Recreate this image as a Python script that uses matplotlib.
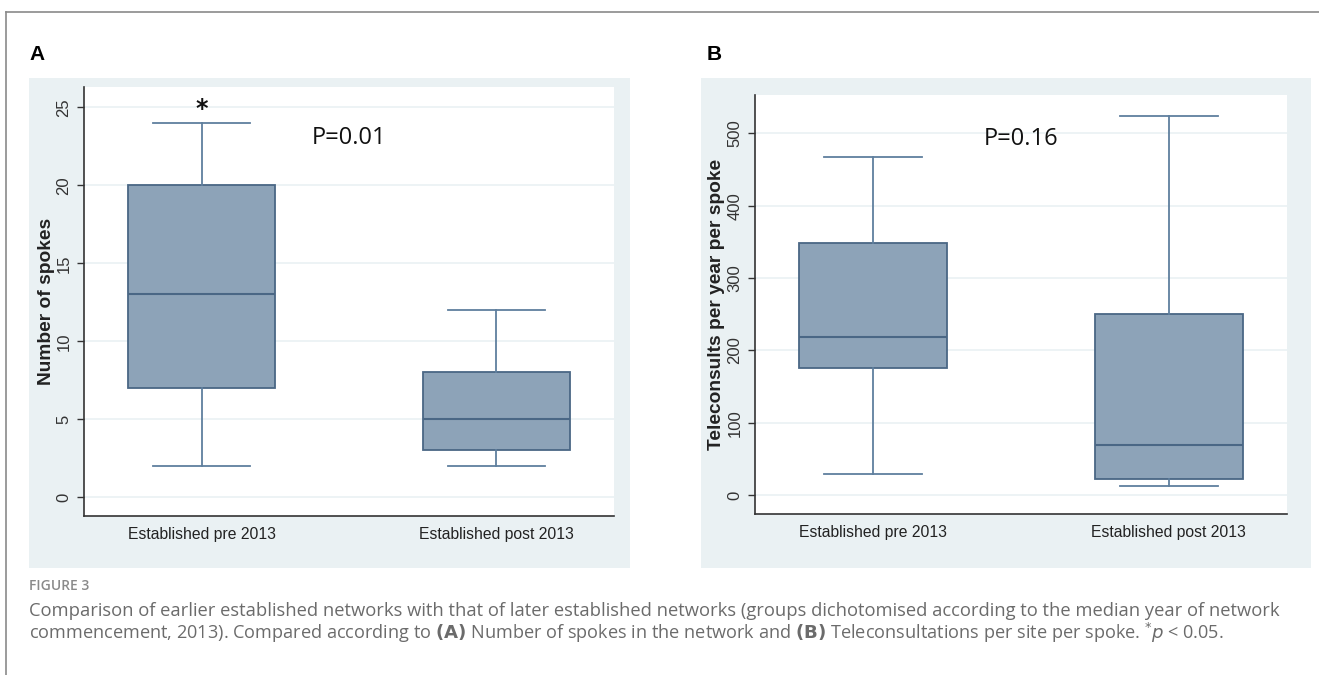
#!/usr/bin/env python3
"""Figure 3: boxplots of networks established pre/post 2013"""
import matplotlib
matplotlib.use('Agg')
import matplotlib.pyplot as plt
from matplotlib.lines import Line2D

groups = ['Established pre 2013', 'Established post 2013']

# box stats: low whisker, q1, median, q3, high whisker
spokes_stats = [[2, 7, 13, 20, 24], [2, 3, 5, 8, 12]]
spokes_ticks = [0, 5, 10, 15, 20, 25]

consults_stats = [[29, 176, 218, 349, 468], [13, 23, 69, 251, 524]]
consults_ticks = [0, 100, 200, 300, 400, 500]

BG = '#eaf1f3'
FILL = '#8da3b8'
EDGE = '#4a6785'
WHISK = '#5f7f9e'

W, H = 1319, 675
fig = plt.figure(figsize=(W / 100, H / 100), dpi=100)


def px(x0, y0, x1, y1):
    """pixel box -> figure fraction rect"""
    return [x0 / W, 1 - y1 / H, (x1 - x0) / W, (y1 - y0) / H]


def panel(bg_box, ax_box, stats, ticks, ylim, ylabel, labx, ptext, ppos,
          star):
    bg = fig.add_axes(px(*bg_box))
    bg.set_facecolor(BG)
    bg.set_xticks([])
    bg.set_yticks([])
    for s in bg.spines.values():
        s.set_visible(False)

    ax = fig.add_axes(px(*ax_box))
    ax.set_facecolor('white')
    data = [dict(whislo=s[0], q1=s[1], med=s[2], q3=s[3], whishi=s[4],
                 fliers=[]) for s in stats]
    ax.bxp(data, positions=[1, 2], widths=0.5, patch_artist=True,
           boxprops=dict(facecolor=FILL, edgecolor=EDGE, linewidth=1.3),
           medianprops=dict(color=EDGE, linewidth=1.5),
           whiskerprops=dict(color=WHISK, linewidth=1.3),
           capprops=dict(color=WHISK, linewidth=1.3),
           capwidths=0.33)
    ax.set_xlim(0.6, 2.4)
    ax.set_ylim(*ylim)
    ax.set_yticks(ticks)
    ax.set_yticklabels([str(t) for t in ticks], rotation=90, va='center',
                       fontsize=12, color='#333333', family='Liberation Sans')
    ax.set_xticks([1, 2])
    ax.set_xticklabels(groups, fontsize=11.3, color='#222222',
                       family=['Liberation Sans Narrow', 'Liberation Sans'])
    ax.tick_params(axis='x', length=0, pad=8)
    ax.tick_params(axis='y', length=5, width=1, color='#333333', pad=4)
    ax.grid(axis='y', color=BG, linewidth=1.2)
    ax.set_axisbelow(True)
    for k in ['top', 'right']:
        ax.spines[k].set_visible(False)
    for k in ['left', 'bottom']:
        ax.spines[k].set_color('#333333')
        ax.spines[k].set_linewidth(1.2)
    ax.set_ylabel(ylabel, fontsize=13.8, fontweight='bold',
                  family='Liberation Sans', color='#222222')
    ax.yaxis.set_label_coords(labx, 0.5)
    ax.text(ppos[0], ppos[1], ptext, fontsize=17, family='Open Sans',
            ha='center', va='center', color='#111111')
    if star is not None:
        ax.text(star[0], star[1], '*', fontsize=17, fontweight='bold',
                ha='center', va='center', color='#111111')
    return ax


panel((29, 78, 630, 568), (84, 87, 614, 516), spokes_stats, spokes_ticks,
      (-1.2, 26.3), 'Number of spokes', -0.055, 'P=0.01', (1.5, 23.0),
      (1.0, 24.9))
panel((701, 78, 1311, 568), (755, 95, 1287, 514), consults_stats,
      consults_ticks, (-26, 553), 'Teleconsults per year per spoke', -0.056,
      'P=0.16', (1.5, 492), None)

fig.text(29 / W, 1 - 55 / H, 'A', fontsize=15, fontweight='bold',
         va='center', family='Liberation Sans')
fig.text(707 / W, 1 - 55 / H, 'B', fontsize=15, fontweight='bold',
         va='center', family='Liberation Sans')

# frame lines of the figure page
fig.add_artist(Line2D([6 / W, 1], [1 - 12 / H, 1 - 12 / H],
                      color='#8a8a8a', linewidth=1.2))
fig.add_artist(Line2D([6 / W, 6 / W], [0, 1 - 12 / H],
                      color='#8a8a8a', linewidth=1.2))

fig.text(29 / W, 1 - 586 / H, 'FIGURE 3', fontsize=10, color='#8a8a8a',
         va='center', family='Open Sans', fontweight='semibold')
fig.text(29 / W, 1 - 611 / H,
         'Comparison of earlier established networks with that of later '
         'established networks (groups dichotomised according to the median '
         'year of network', fontsize=13.2, color='#6b6b6b', va='center',
         family='Open Sans')
fig.text(29 / W, 1 - 633 / H,
         r'commencement, 2013). Compared according to $\mathbf{(A)}$ Number '
         r'of spokes in the network and $\mathbf{(B)}$ Teleconsultations per '
         r'site per spoke. $^{*}p$ < 0.05.', fontsize=13.1, color='#6b6b6b',
         va='center', family='Open Sans')

fig.savefig('out.png', dpi=100)
